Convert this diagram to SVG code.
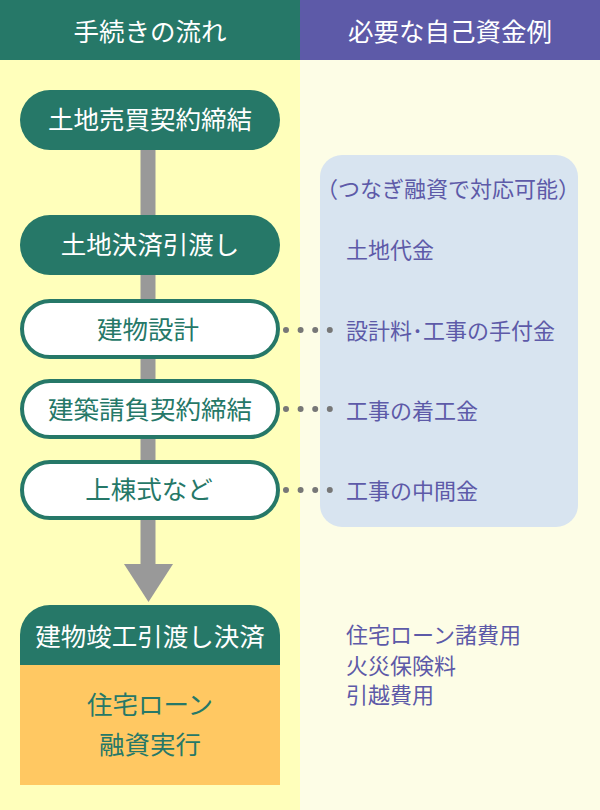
<svg xmlns="http://www.w3.org/2000/svg" width="600" height="810" viewBox="0 0 600 810">
<style>
text{font-family:"Noto Sans CJK JP","Noto Sans",sans-serif}
.hd{fill:#ffffff;font-size:25.5px;text-anchor:middle}
.nw{fill:#ffffff;font-size:25.5px;text-anchor:middle}
.ng{fill:#267868;font-size:25.5px;text-anchor:middle}
.rt{fill:#5d5aa8;font-size:22px}
.fill{fill:#267868}
.wn{fill:#ffffff;stroke:#267868;stroke-width:4}
.dots{stroke:#777777;stroke-width:6;stroke-linecap:round;stroke-dasharray:0 14.6;fill:none}
</style>
<rect x="0" y="0" width="300" height="60" fill="#267868"/>
<rect x="300" y="0" width="300" height="60" fill="#5d5aa8"/>
<rect x="0" y="60" width="300" height="750" fill="#ffffbb"/>
<rect x="300" y="60" width="300" height="750" fill="#fdfde6"/>
<text class="hd" x="150" y="41">手続きの流れ</text>
<text class="hd" x="450" y="41">必要な自己資金例</text>
<g id="panel">
<rect x="320" y="155" width="258" height="372" rx="22" fill="#d8e4f0"/>
<text class="rt" x="448" y="197" text-anchor="middle" font-size="16.5">（つなぎ融資で対応可能）</text>
<text class="rt" x="346" y="258">土地代金</text>
<text class="rt" x="346" y="339">設計料･工事の手付金</text>
<text class="rt" x="346" y="419">工事の着工金</text>
<text class="rt" x="346" y="499">工事の中間金</text>
</g>
<g id="connectors">
<line x1="148" y1="150" x2="148" y2="566" stroke="#999999" stroke-width="15"/>
<polygon points="124,564 173,564 148.5,602" fill="#999999"/>
<line class="dots" x1="286" y1="330" x2="330.5" y2="330"/>
<line class="dots" x1="286" y1="409" x2="330.5" y2="409"/>
<line class="dots" x1="286" y1="490" x2="330.5" y2="490"/>
</g>
<g id="n1">
<rect class="fill" x="20" y="90" width="260" height="60" rx="30"/>
<text class="nw" x="150" y="129">土地売買契約締結</text>
</g>
<g id="n2">
<rect class="fill" x="20" y="215" width="260" height="60" rx="30"/>
<text class="nw" x="150" y="254">土地決済引渡し</text>
</g>
<g id="n3">
<rect class="wn" x="22" y="301" width="256" height="56" rx="28"/>
<text class="ng" x="148" y="339">建物設計</text>
</g>
<g id="n4">
<rect class="wn" x="22" y="381" width="256" height="56" rx="28"/>
<text class="ng" x="150" y="419">建築請負契約締結</text>
</g>
<g id="n5">
<rect class="wn" x="22" y="462" width="256" height="56" rx="28"/>
<text class="ng" x="149" y="499">上棟式など</text>
</g>
<g id="n6">
<path class="fill" d="M20,665 V635 A30,30 0 0 1 50,605 H250 A30,30 0 0 1 280,635 V665 Z"/>
<rect x="20" y="665" width="260" height="120" fill="#ffc862"/>
<text class="nw" x="150" y="646">建物竣工引渡し決済</text>
<text class="ng" x="150" y="714">住宅ローン</text>
<text class="ng" x="150" y="754">融資実行</text>
</g>
<g id="costs">
<text class="rt" x="346" y="643">住宅ローン諸費用</text>
<text class="rt" x="346" y="674">火災保険料</text>
<text class="rt" x="346" y="703">引越費用</text>
</g>
</svg>
